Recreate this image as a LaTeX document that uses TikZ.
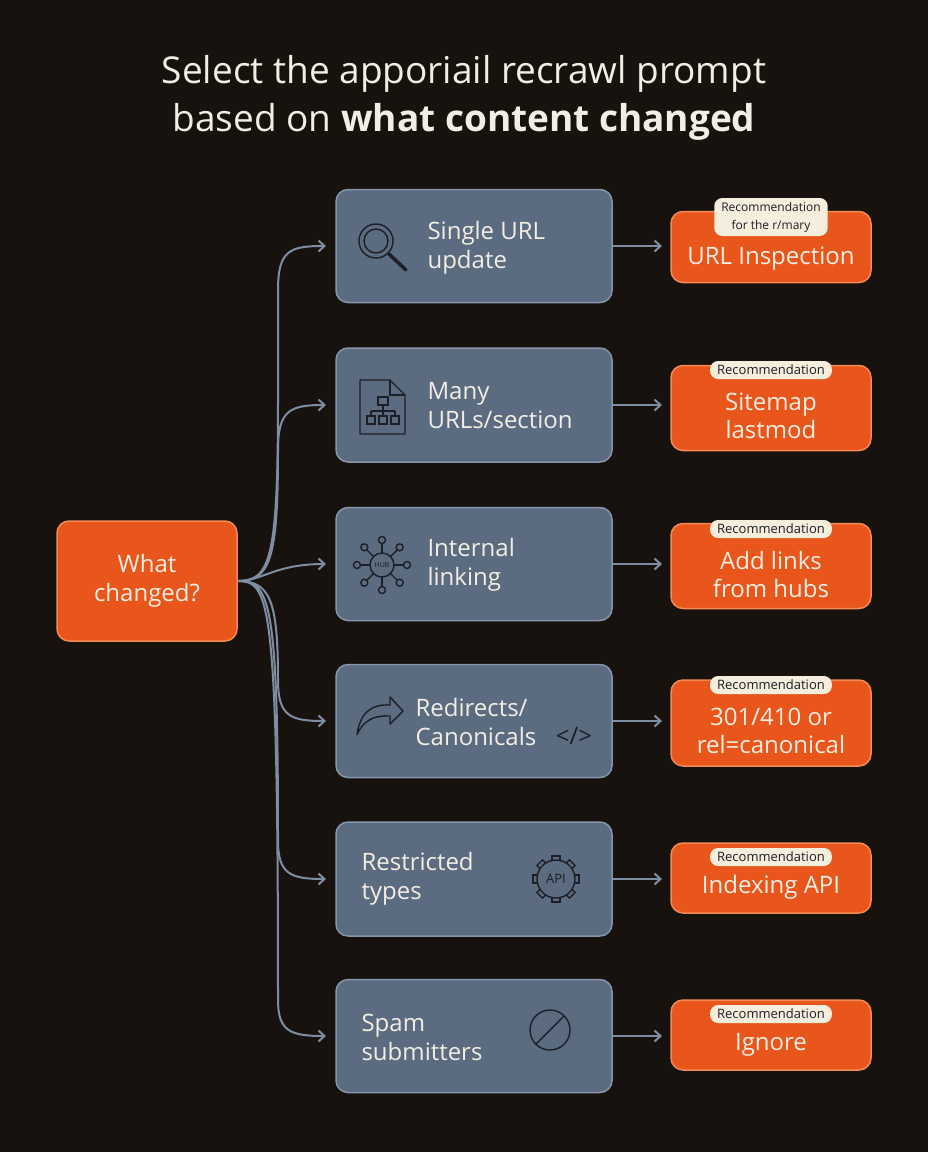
\documentclass[tikz,border=0pt]{standalone}
\usepackage{fontspec}
\setmainfont{Open Sans}
\usetikzlibrary{arrows.meta}
\definecolor{bg}{HTML}{18120F}
\definecolor{midf}{HTML}{5B6B80}
\definecolor{midd}{HTML}{8595AC}
\definecolor{orf}{HTML}{E9561B}
\definecolor{ord}{HTML}{F58A55}
\definecolor{pill}{HTML}{F5EEDC}
\definecolor{txt}{HTML}{F3EEE4}
\definecolor{ink}{HTML}{1C1F26}
\definecolor{conn}{HTML}{7F8DA3}
\begin{document}
\begin{tikzpicture}[x=1pt,y=-1pt,
 mid/.style={draw=midd,line width=1.5pt,fill=midf,rounded corners=12pt},
 orb/.style={draw=ord,line width=1.5pt,fill=orf,rounded corners=12pt,text=txt,align=center,font=\fontsize{23}{26}\selectfont},
 ot/.style={text=txt,align=center,font=\fontsize{24}{28}\selectfont},
 pl/.style={fill=pill,rounded corners=8pt,text=ink,align=center,font=\fontsize{13}{18}\selectfont,inner xsep=7pt,inner ysep=4pt},
 mt/.style={text=txt,align=left,font=\fontsize{24}{29}\selectfont,anchor=west},
 cn/.style={draw=conn,line width=2pt,-{Straight Barb[length=6pt,width=11pt]}},
 ic/.style={draw=ink,line width=1.4pt}]
\fill[bg] (0,0) rectangle (928,1152);
\useasboundingbox (0,0) rectangle (928,1152);
\node[text=txt,align=center,font=\fontsize{37}{48}\selectfont] (title) at (464,98)
 {Select the apporiail recrawl prompt\\based on \textbf{what content changed}};
% left
\node[orb,minimum width=180pt,minimum height=120pt,font=\fontsize{24}{29}\selectfont] (src) at (147,581) {What\\changed?};
\foreach \i/\y/\yo/\h/\ho in {1/246/247/113/71, 2/405/408/114/85, 3/564/566/113/85, 4/721/723/113/86, 5/879/878/114/70, 6/1036/1035/113/70}{
 \node[mid,minimum width=276pt,minimum height=\h pt] (m\i) at (474,\y) {};
 \node[orb,minimum width=200pt,minimum height=\ho pt] (o\i) at (771,\yo) {};
 \coordinate (e\i) at (326,\y);
 \coordinate (a\i) at (662,\y);
 \draw[cn] (m\i.east) -- (a\i);
}
% branches
\draw[cn] (src.east) .. controls (270,581) and (278,560) .. (278,400) -- (278,290) .. controls (278,250) and (290,246) .. (e1);
\draw[cn] (src.east) .. controls (270,581) and (278,560) .. (278,450) .. controls (278,410) and (290,405) .. (e2);
\draw[cn] (src.east) .. controls (262,581) and (275,564) .. (e3);
\draw[cn] (src.east) .. controls (270,581) and (278,600) .. (278,680) .. controls (278,716) and (290,721) .. (e4);
\draw[cn] (src.east) .. controls (270,581) and (278,600) .. (278,840) .. controls (278,874) and (290,879) .. (e5);
\draw[cn] (src.east) .. controls (270,581) and (278,600) .. (278,1000) .. controls (278,1031) and (290,1036) .. (e6);
% mid texts
\node[mt] (t1) at (424,248) {Single URL\\update};
\node[mt] (t2) at (424,406) {Many\\URLs/section};
\node[mt] (t3) at (424,565) {Internal\\linking};
\node[mt] (t4) at (412,722) {Redirects/\\Canonicals};
\node[mt] (t5) at (358,879) {Restricted\\types};
\node[mt] (t6) at (358,1037) {Spam\\submitters};
% orange texts
\node[ot] (r1) at (771,259) {URL Inspection};
\node[ot] (r2) at (771,416) {Sitemap\\lastmod};
\node[ot] (r3) at (771,574) {Add links\\from hubs};
\node[ot] (r4) at (771,731) {301/410 or\\rel=canonical};
\node[ot] (r5) at (771,887) {Indexing API};
\node[ot] (r6) at (771,1045) {Ignore};
% pills
\node[pl,font=\fontsize{12}{18}\selectfont] (p1) at (771,217) {Recommendation\\for the r/mary};
\node[pl] (p2) at (771,370) {Recommendation};
\node[pl] (p3) at (771,529) {Recommendation};
\node[pl] (p4) at (771,685) {Recommendation};
\node[pl] (p5) at (771,857) {Recommendation};
\node[pl] (p6) at (771,1014) {Recommendation};
% icons
\draw[ic] (376,241) circle (17); \draw[ic] (376,241) circle (12);
\draw[ic,line width=3.5pt,line cap=round] (389,254) -- (406,270);
\draw[ic,line join=round] (360,380) -- (390,380) -- (405,395) -- (405,434) -- (360,434) -- cycle;
\draw[ic] (390,380) -- (390,395) -- (405,395);
\draw[ic] (378,397) rectangle (388,405); \draw[ic] (383,405) -- (383,411) (371,411) -- (395,411) (371,411)--(371,416) (383,411)--(383,416) (395,411)--(395,416);
\draw[ic] (367,416) rectangle (375,424) (379,416) rectangle (387,424) (391,416) rectangle (399,424);
\foreach \a in {0,45,...,315}{\draw[ic] (382,565) ++(\a:12) -- ++(\a:10); \draw[ic] (382,565) ++(\a:25) circle (3.5);}
\draw[ic] (382,565) circle (12);
\node[text=ink,font=\fontsize{7}{8}\selectfont] (hub) at (382,565) {HUB};
\draw[ic,line join=round] (357,735) .. controls (360,712) and (372,704) .. (390,705) -- (390,697) -- (403,711) -- (390,724) -- (390,716) .. controls (375,715) and (363,720) .. (357,735);
\node[text=ink,font=\fontsize{24}{26}\selectfont] (code) at (574,736) {</>};
\foreach \a in {0,45,...,315}{\draw[ic,fill=midf,rotate around={\a:(556,879)}] (552,862) -- (552,856) -- (560,856) -- (560,862);}
\draw[ic,fill=midf] (556,879) circle (19);
\node[text=ink,font=\fontsize{13}{14}\selectfont] (api) at (556,879) {API};
\draw[ic] (550,1030) circle (20);
\draw[ic] (536,1044) -- (564,1016);
\end{tikzpicture}
\end{document}
